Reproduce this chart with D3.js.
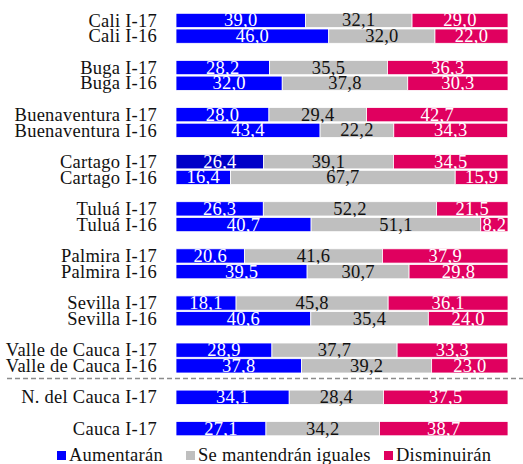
<!DOCTYPE html>
<html>
<head>
<meta charset="utf-8">
<script src="https://cdn.jsdelivr.net/npm/d3@7"></script>
<style>
  body { margin: 0; background: #fff; }
  text { font-family: "Liberation Serif", "Times New Roman", serif; letter-spacing: 0.25px; }
</style>
</head>
<body>
<svg id="chart" width="523" height="464"></svg>
<script>
// expectativas por ciudad, I-17 vs I-16

const categories = [
  'Cali I-17', 'Cali I-16',
  'Buga I-17', 'Buga I-16',
  'Buenaventura I-17', 'Buenaventura I-16',
  'Cartago I-17', 'Cartago I-16',
  'Tuluá I-17', 'Tuluá I-16',
  'Palmira I-17', 'Palmira I-16',
  'Sevilla I-17', 'Sevilla I-16',
  'Valle de Cauca I-17', 'Valle de Cauca I-16',
  'N. del Cauca I-17',
  'Cauca I-17'
];
const aumentaran = [39.0, 46.0, 28.2, 32.0, 28.0, 43.4, 26.4, 16.4, 26.3, 40.7, 20.6, 39.5, 18.1, 40.6, 28.9, 37.8, 34.1, 27.1];
const mantendran = [32.1, 32.0, 35.5, 37.8, 29.4, 22.2, 39.1, 67.7, 52.2, 51.1, 41.6, 30.7, 45.8, 35.4, 37.7, 39.2, 28.4, 34.2];
const disminuiran = [29.0, 22.0, 36.3, 30.3, 42.7, 34.3, 34.5, 15.9, 21.5, 8.2, 37.9, 29.8, 36.1, 24.0, 33.3, 23.0, 37.5, 38.7];
const seriesNames = ['Aumentarán', 'Se mantendrán iguales', 'Disminuirán'];

const colors = ['#0000ff', '#bfbfbf', '#e0005f'];
const textColors = ['#fff', '#111', '#fff'];
const highlight = 'Cartago I-17'; // esta barra sale mas oscura

const svg = d3.select('#chart');
const fontSize = 18.5;

// rows plus empty spacer slots after each pair
const domain = [];
categories.forEach((c, i) => {
  domain.push(c);
  if (c.endsWith('I-16') || c === 'N. del Cauca I-17') domain.push('gap' + i);
});

const y = d3.scaleBand()
  .domain(domain)
  .range([12.6, 436.5])
  .paddingInner(0.09)
  .paddingOuter(0.045);

const x = d3.scaleLinear()
  .domain([0, 100])
  .range([176, 508]);

const rows = categories.map((c, i) => {
  const vals = [aumentaran[i], mantendran[i], disminuiran[i]];
  let acc = 0;
  return {
    cat: c,
    segs: vals.map((v, k) => {
      const s = { k, v, x0: acc, x1: acc + v };
      acc += v;
      return s;
    })
  };
});

const rowG = svg.selectAll('g.row')
  .data(rows)
  .enter()
  .append('g')
  .attr('class', 'row')
  .attr('transform', (d) => `translate(0, ${y(d.cat)})`);

rowG.selectAll('rect')
  .data((d) => d.segs.map((s) => ({ ...s, cat: d.cat })))
  .enter()
  .append('rect')
  .attr('x', (s) => x(s.x0))
  .attr('width', (s) => Math.max(0, x(Math.min(s.x1, 100)) - x(s.x0)))
  .attr('height', y.bandwidth())
  .attr('fill', (s) => (s.k === 0 && s.cat === highlight ? '#0000c8' : colors[s.k]))
  .attr('stroke', '#fff')
  .attr('stroke-width', 0.8);

rowG.selectAll('text.val')
  .data((d) => d.segs)
  .enter()
  .append('text')
  .attr('class', 'val')
  .attr('x', (s) => x((s.x0 + Math.min(s.x1, 100)) / 2))
  .attr('y', y.bandwidth() - 1.2)
  .attr('text-anchor', 'middle')
  .attr('font-size', fontSize)
  .attr('fill', (s) => textColors[s.k])
  .text((s) => s.v.toFixed(1).replace('.', ','));

// category labels
rowG.append('text')
  .attr('x', 157)
  .attr('y', y.bandwidth() - 1)
  .attr('text-anchor', 'end')
  .attr('font-size', fontSize)
  .attr('fill', '#111')
  .text((d) => d.cat);

// dashed separator before the department rows
const sepY = y('gap15') + y.bandwidth() / 2 - 3;
svg.append('line')
  .attr('x1', 7)
  .attr('x2', 523)
  .attr('y1', sepY)
  .attr('y2', sepY)
  .attr('stroke', '#8c8c8c')
  .attr('stroke-width', 1.5)
  .attr('stroke-dasharray', '5,3');

// legend
const legendX = [57, 186, 384];
const legend = svg.selectAll('g.legend')
  .data(seriesNames)
  .enter()
  .append('g')
  .attr('class', 'legend')
  .attr('transform', (d, i) => `translate(${legendX[i]}, 456)`);

legend.append('rect')
  .attr('x', 0)
  .attr('y', -5)
  .attr('width', 9)
  .attr('height', 9)
  .attr('fill', (d, i) => colors[i]);

legend.append('text')
  .attr('x', 12)
  .attr('y', 5)
  .attr('font-size', fontSize)
  .attr('fill', '#111')
  .text((d) => d);
</script>
</body>
</html>
